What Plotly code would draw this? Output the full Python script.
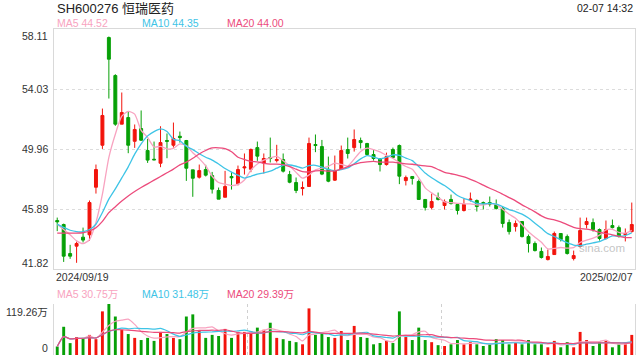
import numpy as np
import pandas as pd
import plotly.graph_objects as go

# ---------------- data ----------------
days_by_month = {
    "2024/09": [19, 20, 23, 24, 25, 26, 27, 30],
    "2024/10": [8, 9, 10, 11, 14, 15, 16, 17, 18, 21, 22, 23, 24, 25, 28, 29, 30, 31],
    "2024/11": [1, 4, 5, 6, 7, 8, 11, 12, 13, 14, 15, 18, 19, 20, 21, 22, 25, 26, 27, 28, 29],
    "2024/12": [2, 3, 4, 5, 6, 9, 10, 11, 12, 13, 16, 17, 18, 19, 20, 23, 24, 25, 26, 27, 30, 31],
    "2025/01": [2, 3, 6, 7, 8, 9, 10, 13, 14, 15, 16, 17, 20, 21, 22, 23, 24, 27],
    "2025/02": [5, 6, 7],
}
dates = [f"{m}/{d:02d}" for m, ds in days_by_month.items() for d in ds]

open_ = [45.11, 44.84, 42.87, 43.37, 43.98, 44.14, 47.37, 50.22, 57.53, 54.95,
         51.65, 52.10, 50.49, 51.35, 49.86, 49.27, 49.00, 50.54, 50.22, 50.83,
         50.54, 48.55, 48.05, 48.57, 48.16, 47.15, 46.69, 48.10, 47.60, 48.68,
         48.59, 50.06, 49.02, 49.39, 49.18, 49.25, 48.23, 47.69, 47.28, 47.42,
         50.27, 50.13, 48.59, 47.85, 48.59, 49.93, 50.06, 50.54, 50.34, 49.59,
         49.32, 48.91, 49.93, 50.20, 47.82, 48.10, 47.76, 46.54, 46.00, 46.67,
         46.13, 46.54, 46.20, 45.79, 46.51, 46.47, 46.33, 46.33, 46.20, 45.92,
         44.97, 44.70, 45.04, 44.02, 43.55, 43.01, 42.46, 42.80, 44.23, 44.02,
         42.53, 43.35, 44.84, 44.97, 44.50, 43.89, 44.77, 44.63, 44.16, 44.36]
high = [45.31, 44.90, 43.46, 43.68, 44.63, 46.47, 48.91, 52.71, 57.60, 55.04,
        53.80, 52.51, 51.63, 52.58, 50.65, 50.47, 51.51, 51.02, 51.76, 51.15,
        50.58, 48.55, 48.91, 48.89, 48.41, 47.35, 48.48, 48.41, 48.84, 49.66,
        50.00, 50.47, 49.66, 50.74, 50.25, 49.66, 48.48, 48.03, 47.76, 50.74,
        50.95, 50.58, 49.45, 49.52, 50.20, 50.74, 51.29, 50.74, 50.38, 49.93,
        49.32, 49.72, 50.06, 50.27, 48.16, 48.10, 47.89, 46.54, 46.94, 47.01,
        46.54, 46.87, 46.20, 46.60, 47.01, 46.54, 46.40, 46.74, 46.54, 46.06,
        45.18, 45.11, 45.04, 44.16, 43.69, 43.28, 43.14, 44.36, 44.23, 44.16,
        43.07, 45.31, 45.31, 45.25, 44.57, 45.11, 45.18, 44.77, 44.57, 46.33]
low = [44.39, 42.30, 42.51, 42.24, 43.62, 43.73, 46.94, 49.97, 53.39, 51.54,
       51.65, 49.68, 50.04, 50.52, 49.02, 49.21, 48.73, 49.34, 50.06, 50.40,
       47.80, 46.72, 47.96, 48.10, 46.94, 46.56, 46.69, 47.21, 47.49, 48.23,
       48.39, 49.16, 48.30, 49.05, 49.05, 48.37, 47.64, 46.97, 46.81, 47.42,
       49.75, 48.19, 47.71, 47.80, 48.59, 49.32, 49.79, 50.00, 49.52, 49.18,
       48.44, 48.84, 49.32, 47.58, 47.49, 47.55, 46.54, 45.79, 45.86, 46.47,
       45.86, 46.20, 45.52, 45.72, 46.40, 45.72, 45.86, 46.06, 45.86, 44.63,
       44.16, 44.36, 43.96, 42.94, 43.01, 42.53, 42.40, 42.80, 43.69, 42.80,
       42.40, 43.28, 44.57, 44.36, 43.75, 43.82, 44.57, 43.96, 43.69, 44.29]
close = [45.02, 42.69, 42.69, 43.55, 43.78, 46.33, 48.57, 52.24, 56.06, 51.65,
         52.44, 50.22, 51.29, 50.56, 49.21, 49.23, 50.40, 50.49, 50.68, 50.74,
         48.66, 47.98, 48.50, 48.19, 47.24, 46.56, 47.42, 48.01, 48.57, 48.75,
         49.93, 49.48, 49.32, 49.32, 49.25, 48.46, 47.71, 47.15, 47.35, 50.34,
         50.20, 48.26, 47.78, 48.48, 49.86, 49.66, 50.61, 50.40, 49.59, 49.32,
         48.91, 49.45, 49.39, 48.12, 48.03, 47.96, 46.54, 46.00, 46.40, 46.54,
         46.40, 46.26, 45.79, 46.20, 46.56, 46.06, 46.26, 46.22, 45.92, 44.91,
         44.36, 44.91, 44.02, 43.55, 43.07, 42.60, 42.67, 44.23, 43.82, 42.87,
         42.73, 44.43, 45.04, 44.50, 43.89, 44.50, 44.63, 44.02, 44.23, 44.84]
# moving-average values at the start of the window (they include days before
# 2024/09/19, so they are read off the picture rather than computed)
ma5_start = [44.86, 44.50, 44.14, 43.73]
ma10_start = [44.87, 44.64, 44.45, 44.36, 44.36, 44.50, 44.86, 45.65, 46.56]
ma20_start = [44.25, 44.25, 44.25, 44.25, 44.28, 44.40, 44.62, 45.05, 45.65, 46.05,
              46.43, 46.78, 47.08, 47.35, 47.60, 47.85, 48.10, 48.35, 48.60]
# volume in 万 shares
volume = [19.9, 66, 27.8, 42, 40, 47, 37, 102, 119.26, 90,
          59, 49, 40, 35, 40, 33, 54, 49, 40, 37,
          90, 95, 56, 40, 47, 44.5, 61, 40, 54, 54,
          56, 64, 59, 75.5, 40, 37, 33, 30, 25, 109,
          47, 52, 42, 40, 56, 35, 68, 42, 40, 25,
          28, 33, 28, 102, 42, 35, 64, 35, 30, 23,
          21, 25, 35, 25, 30, 25, 21, 25, 37, 35,
          25, 28, 25, 35, 25, 25, 18, 33, 18, 30,
          18, 54, 35, 21, 30, 33, 18, 25, 25, 47]

price_ticks = [41.82, 45.89, 49.96, 54.03, 58.11]
vol_ticks = [0, 119.26]
vol_tick_labels = ["0", "119.26万"]
title_text = "SH600276 恒瑞医药"
time_text = "02-07 14:32"
price_legend = [("MA5", "44.52"), ("MA10", "44.35"), ("MA20", "44.00")]
vol_legend = [("MA5", "30.75万"), ("MA10", "31.48万"), ("MA20", "29.39万")]

# ---------------- styles ----------------
RED = "#f2140c"
GREEN = "#07a007"
MA_COLORS = {"MA5": "#f8a3c0", "MA10": "#3ec4e6", "MA20": "#ec4b7c"}
FONT = "Arial, 'Liberation Sans', 'Noto Sans CJK SC', sans-serif"
TXT = "#333333"

n = len(dates)
xs = np.arange(n)
cl = pd.Series(close)
vs = pd.Series(volume)
starts = {"MA5": ma5_start, "MA10": ma10_start, "MA20": ma20_start}
ma_price = {}
for k, w in (("MA5", 5), ("MA10", 10), ("MA20", 20)):
    full = cl.rolling(w).mean().to_numpy()
    full[:w - 1] = starts[k]
    ma_price[k] = full
ma_vol = {k: vs.rolling(w, min_periods=1).mean() for k, w in (("MA5", 5), ("MA10", 10), ("MA20", 20))}
vol_colors = [RED if c >= o else GREEN for o, c in zip(open_, close)]

fig = go.Figure()
fig.add_trace(go.Candlestick(
    x=xs, open=open_, high=high, low=low, close=close,
    increasing=dict(line=dict(color=RED, width=1), fillcolor=RED),
    decreasing=dict(line=dict(color=GREEN, width=1), fillcolor=GREEN),
    whiskerwidth=0, xaxis="x", yaxis="y", hoverinfo="skip"))
for k in ("MA5", "MA10", "MA20"):
    fig.add_trace(go.Scatter(x=xs, y=ma_price[k], mode="lines",
                             line=dict(color=MA_COLORS[k], width=1.3, shape="spline", smoothing=0.6),
                             xaxis="x", yaxis="y", hoverinfo="skip"))
fig.add_trace(go.Bar(x=xs, y=volume, marker=dict(color=vol_colors, line=dict(width=0)),
                     width=0.45, xaxis="x2", yaxis="y2", hoverinfo="skip"))
for k in ("MA5", "MA10", "MA20"):
    fig.add_trace(go.Scatter(x=xs, y=ma_vol[k], mode="lines",
                             line=dict(color=MA_COLORS[k], width=1.2, shape="spline", smoothing=0.6),
                             xaxis="x2", yaxis="y2", hoverinfo="skip"))

L, R, T, B = 54, 5, 29, 5
H = 360
ph = H - T - B


def py(Y):
    return (H - B - Y) / ph


def px(X):
    return (X - L) / (640 - L - R)


ann = []
ann.append(dict(text=title_text, x=px(55), y=py(9), xref="paper", yref="paper",
                xanchor="left", yanchor="middle", showarrow=False,
                font=dict(family=FONT, size=13, color="#222")))
ann.append(dict(text=time_text, x=1, y=py(8), xref="paper", yref="paper",
                xanchor="right", yanchor="middle", showarrow=False,
                font=dict(family=FONT, size=10.5, color="#222")))
for (name, val), xpix in zip(price_legend, (55, 140, 225)):
    ann.append(dict(text=f"{name} {val}", x=px(xpix), y=py(23), xref="paper", yref="paper",
                    xanchor="left", yanchor="middle", showarrow=False,
                    font=dict(family=FONT, size=10.5, color=MA_COLORS[name])))
for (name, val), xpix in zip(vol_legend, (55, 140, 225)):
    ann.append(dict(text=f"{name} {val}", x=px(xpix), y=py(294), xref="paper", yref="paper",
                    xanchor="left", yanchor="middle", showarrow=False,
                    font=dict(family=FONT, size=10.5, color=MA_COLORS[name])))
for i, v in enumerate(price_ticks):
    shift = -7 if i == len(price_ticks) - 1 else (6 if i == 0 else 0)
    ann.append(dict(text=f"{v:.2f}", x=0, y=v, xref="paper", yref="y", xshift=-4, yshift=shift,
                    xanchor="right", yanchor="middle", showarrow=False,
                    font=dict(family=FONT, size=10.5, color=TXT)))
for v, t, shift in zip(vol_ticks, vol_tick_labels, (7, -8)):
    ann.append(dict(text=t, x=0, y=v, xref="paper", yref="y2", xshift=-4, yshift=shift,
                    xanchor="right", yanchor="middle", showarrow=False,
                    font=dict(family=FONT, size=10.5, color=TXT)))
ann.append(dict(text=dates[0], x=0, y=py(277), xref="paper", yref="paper",
                xanchor="left", yanchor="middle", showarrow=False,
                font=dict(family=FONT, size=10.5, color=TXT)))
ann.append(dict(text=dates[-1], x=1, y=py(277), xref="paper", yref="paper",
                xanchor="right", yanchor="middle", showarrow=False,
                font=dict(family=FONT, size=10.5, color=TXT)))
ann.append(dict(text="sina.com", x=px(602), y=py(248), xref="paper", yref="paper",
                xanchor="center", yanchor="middle", showarrow=False,
                font=dict(family=FONT, size=11.5, color="rgba(170,170,170,0.7)")))

fig.update_layout(
    width=640, height=360,
    margin=dict(l=L, r=R, t=T, b=B, pad=0),
    paper_bgcolor="white", plot_bgcolor="white",
    showlegend=False, boxgap=0.35,
    annotations=ann,
    xaxis=dict(domain=[0, 1], anchor="y", range=[-0.5, n - 0.5], showticklabels=False,
               showgrid=False, zeroline=False, showline=True, mirror=True,
               linecolor="#d9d9d9", linewidth=1, ticks="", rangeslider=dict(visible=False),
               fixedrange=True),
    yaxis=dict(domain=[py(269), 1], anchor="x", range=[price_ticks[0], price_ticks[-1]],
               tickvals=price_ticks[1:-1], showticklabels=False, ticks="",
               showgrid=True, gridcolor="#dcdcdc", griddash="dot", gridwidth=1,
               zeroline=False, showline=True, mirror=True, linecolor="#d9d9d9", linewidth=1,
               fixedrange=True),
    xaxis2=dict(domain=[0, 1], anchor="y2", range=[-0.5, n - 0.5], showticklabels=False,
                tickvals=[n / 3 - 0.5, 2 * n / 3 - 0.5], ticks="",
                showgrid=True, gridcolor="#d0d0d0", griddash="dot", gridwidth=1,
                zeroline=False, showline=False, fixedrange=True),
    yaxis2=dict(domain=[0, py(304)], anchor="x2", range=[0, vol_ticks[-1]],
                tickvals=[vol_ticks[-1]], showticklabels=False, ticks="",
                showgrid=True, gridcolor="#d0d0d0", griddash="dot", gridwidth=1,
                zeroline=False, showline=True, mirror=True, linecolor="#d9d9d9", linewidth=1,
                fixedrange=True),
)

fig.write_html("out.html", config={"displayModeBar": False},
               post_script="document.body.style.margin='0';document.body.style.overflow='hidden';")
